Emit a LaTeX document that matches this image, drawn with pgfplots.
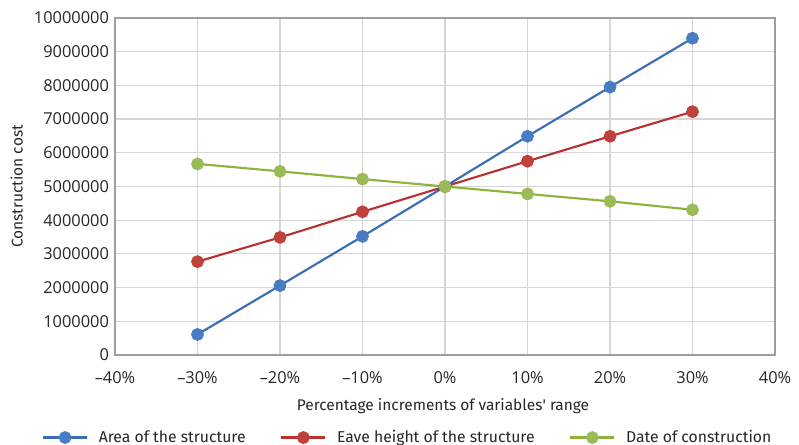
\documentclass[border=0pt]{standalone}
\usepackage{pgfplots}
\pgfplotsset{compat=1.18}
\usepackage{fontspec}
\setmainfont{Fira Sans}
\newfontfamily\tickfont{Open Sans}
\definecolor{cblue}{HTML}{3A6DB5}
\definecolor{cbluem}{HTML}{4A7CC4}
\definecolor{cred}{HTML}{B83232}
\definecolor{credm}{HTML}{C0403D}
\definecolor{cgreen}{HTML}{8DB33A}
\definecolor{cgreenm}{HTML}{9BBB59}
\begin{document}
\begin{tikzpicture}
\useasboundingbox (-86.25pt,-67.5pt) rectangle (513pt,266.25pt);
\begin{axis}[
  at={(0,0)}, anchor=south west,
  scale only axis,
  width=495pt, height=252.75pt,
  xmin=-40, xmax=40, ymin=0, ymax=10000000,
  xtick={-40,-30,...,40},
  xticklabels={–40\%,–30\%,–20\%,–10\%,0\%,10\%,20\%,30\%,40\%},
  ytick={0,1000000,...,10000000},
  yticklabels={0,1000000,2000000,3000000,4000000,5000000,6000000,7000000,8000000,9000000,10000000},
  scaled y ticks=false,
  grid=major,
  grid style={draw=black!16, line width=0.9pt},
  axis line style={draw=black!38, line width=0.9pt},
  major tick length=0pt,
  tick label style={font=\tickfont\fontsize{12.3pt}{14pt}\selectfont, text=black!85},
  xticklabel style={yshift=-9pt},
  yticklabel style={xshift=-1pt},
  label style={font=\fontsize{11.6pt}{14pt}\selectfont, text=black!85},
  xlabel={Percentage increments of variables\textquotesingle{} range},
  ylabel={Construction cost},
  xlabel style={at={(axis description cs:0.497,-0.152)}, anchor=center},
  ylabel style={at={(axis description cs:-0.149,0.5)}, anchor=center},
  legend style={at={(axis description cs:0.444,-0.245)}, anchor=center, draw=none, fill=none, legend columns=3,
     /tikz/every even column/.append style={column sep=24pt},
     /tikz/every odd column/.append style={column sep=6pt},
     font=\fontsize{11.8pt}{14pt}\selectfont, text=black!85},
  legend image code/.code={\draw[mark repeat=2,mark phase=2,#1] plot coordinates {(0pt,0pt) (16.5pt,0pt) (33pt,0pt)};},
  every axis plot/.append style={line width=1.6pt, mark=*, mark size=4pt},
]
\addplot[color=cblue, mark options={fill=cbluem, draw=cbluem}] coordinates {
(-30,610000) (-20,2060000) (-10,3520000) (0,5000000) (10,6490000) (20,7950000) (30,9400000)};
\addlegendentry{Area of the structure}
\addplot[color=cred, mark options={fill=credm, draw=credm}] coordinates {
(-30,2770000) (-20,3490000) (-10,4250000) (0,5000000) (10,5750000) (20,6490000) (30,7220000)};
\addlegendentry{Eave height of the structure}
\addplot[color=cgreen, mark options={fill=cgreenm, draw=cgreenm}] coordinates {
(-30,5670000) (-20,5450000) (-10,5220000) (0,5000000) (10,4780000) (20,4560000) (30,4310000)};
\addlegendentry{Date of construction}
\end{axis}
\end{tikzpicture}
\end{document}
